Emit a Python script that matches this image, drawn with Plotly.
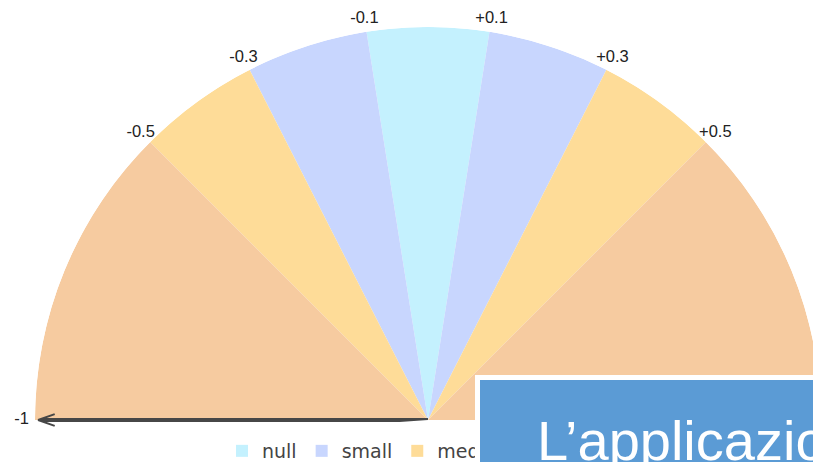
import math
import plotly.graph_objects as go

# ---- data ----
categories = ["null", "small", "medium", "large"]
segments = {
    "null": [(-0.1, 0.1)],
    "small": [(-0.3, -0.1), (0.1, 0.3)],
    "medium": [(-0.5, -0.3), (0.3, 0.5)],
    "large": [(-1.0, -0.5), (0.5, 1.0)],
}
colors = {"null": "#C4F1FE", "small": "#C8D6FE", "medium": "#FEDC98", "large": "#F6CBA0"}
tick_values = [-1, -0.5, -0.3, -0.1, 0.1, 0.3, 0.5]
tick_labels = ["-1", "-0.5", "-0.3", "-0.1", "+0.1", "+0.3", "+0.5"]
needle_value = -1
overlay_text = "L\u2019applicazione"

W, H = 821, 462
OFF = 8          # page offset of the figure inside the browser body
LABEL_R = 1.034  # radius (relative to the gauge) at which scale labels are centred
LABEL_MAX = 1.048  # radial range of the label layer


def to_theta(v):
    return 90 - 90 * v


fig = go.Figure()
for cat in categories:
    segs = segments[cat]
    fig.add_trace(go.Barpolar(
        name=cat,
        r=[1] * len(segs),
        theta=[to_theta((a + b) / 2) for a, b in segs],
        width=[90 * (b - a) for a, b in segs],
        marker=dict(color=colors[cat], line=dict(width=0)),
        hoverinfo="skip",
    ))

# needle
nt = to_theta(needle_value)
fig.add_trace(go.Scatterpolar(
    r=[0, 0.985], theta=[nt, nt], mode="lines",
    line=dict(color="#474747", width=4), showlegend=False, cliponaxis=False,
    hoverinfo="skip",
))
fig.add_trace(go.Scatterpolar(
    r=[0.95, 0.992, 0.95], theta=[nt - 0.9, nt, nt + 0.9], mode="lines",
    line=dict(color="#474747", width=2), showlegend=False, cliponaxis=False,
    hoverinfo="skip",
))

# scale labels at the segment boundaries (separate transparent polar layer)
fig.add_trace(go.Scatterpolar(
    subplot="polar2",
    r=[LABEL_R] * len(tick_values), theta=[to_theta(v) for v in tick_values],
    text=tick_labels, mode="text", textposition="middle center",
    textfont=dict(family="Liberation Sans, Arial, sans-serif", size=16.5, color="#222222"),
    showlegend=False, cliponaxis=False, hoverinfo="skip",
))

# geometry in page pixels: centre (428, 420), radius 393
R = 393
cx, cy = 428 - OFF, 420 - OFF
ext = 4  # sector extension (deg) below the horizontal
below = R * math.sin(math.radians(ext))

R2 = R * LABEL_MAX
s2 = [40, 180 + ext]
below2 = R2 * math.sin(math.radians(ext))
right2 = R2 * math.cos(math.radians(s2[0]))

common_ang = dict(direction="counterclockwise", rotation=0,
                  showticklabels=False, showgrid=False, showline=False, ticks="")

fig.update_layout(
    width=W, height=H,
    margin=dict(l=0, r=0, t=0, b=0),
    paper_bgcolor="white",
    hovermode=False,
    font=dict(family="Liberation Sans, Arial, sans-serif", color="#333333"),
    polar=dict(
        domain=dict(x=[(cx - R) / W, (cx + R) / W],
                    y=[(H - (cy + below)) / H, (H - (cy - R)) / H]),
        sector=[-ext, 180 + ext],
        bgcolor="rgba(0,0,0,0)",
        bargap=0,
        radialaxis=dict(range=[0, 1], visible=False),
        angularaxis=common_ang,
    ),
    polar2=dict(
        domain=dict(x=[(cx - R2) / W, (cx + right2) / W],
                    y=[(H - (cy + below2)) / H, min(1.0, (H - (cy - R2)) / H)]),
        sector=s2,
        bgcolor="rgba(0,0,0,0)",
        radialaxis=dict(range=[0, LABEL_MAX], visible=False),
        angularaxis=common_ang,
    ),
    legend=dict(
        orientation="h", x=214 / W, xanchor="left", y=0, yanchor="bottom",
        font=dict(family="DejaVu Sans, sans-serif", size=19, color="#444444"),
        itemclick=False, traceorder="normal",
    ),
    annotations=[
        dict(text=" ", xref="paper", yref="paper",
             x=(475 - OFF) / W, y=(H - (375 - OFF)) / H, xanchor="left", yanchor="top",
             width=420, height=140, showarrow=False,
             bgcolor="#5B9BD5", bordercolor="white", borderwidth=5, borderpad=0),
        dict(text=overlay_text, xref="paper", yref="paper",
             x=(535 - OFF) / W, y=(H - 399) / H, xanchor="left", yanchor="top",
             showarrow=False,
             font=dict(family="Liberation Sans, Arial, sans-serif", size=56, color="white")),
    ],
)

fig.write_html("out.html")
